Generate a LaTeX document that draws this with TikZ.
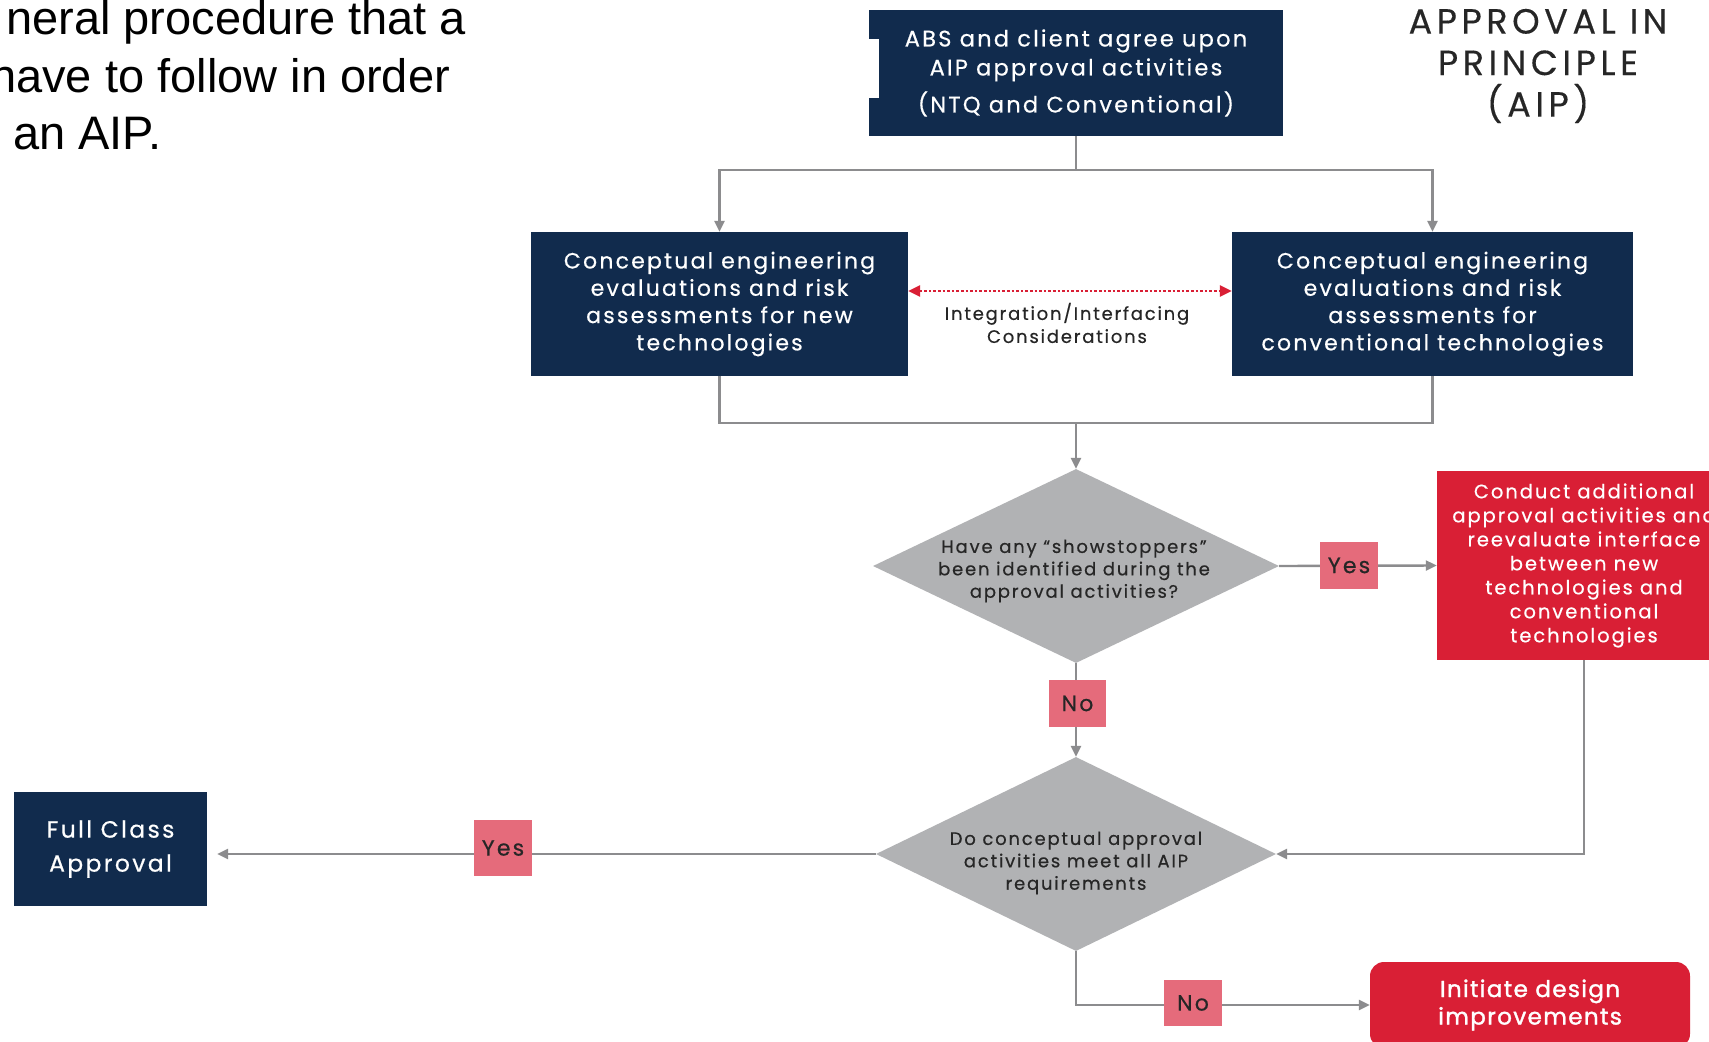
\documentclass[tikz,border=0pt]{standalone}
\usepackage{fontspec}
\setmainfont{Poppins}
\newfontfamily\arialfont{Liberation Sans}
\newfontfamily\trk[LetterSpace=10, FakeBold=0.5]{Poppins}
\newfontfamily\trkt[LetterSpace=13, FakeBold=0.3]{Poppins}
\newfontfamily\trkb[LetterSpace=6, FakeBold=1.6]{Poppins}
\usetikzlibrary{shapes.geometric,arrows.meta}
\definecolor{navy}{RGB}{17,43,77}
\definecolor{absred}{RGB}{217,31,53}
\definecolor{pinklab}{RGB}{229,107,123}
\definecolor{dgray}{RGB}{177,178,180}
\definecolor{lgray}{RGB}{140,140,142}
\newcommand\boxfnt{\trk\fontsize{22}{27.3}\selectfont}
\newcommand\dfnt{\trk\fontsize{18}{22.4}\selectfont}
\tikzset{
  navybox/.style={fill=navy, text=white, align=center, inner sep=0pt, font=\boxfnt},
  redbox/.style={fill=absred, text=white, align=center, inner sep=0pt, font=\boxfnt},
  dshape/.style={shape=diamond, fill=dgray, inner sep=0pt},
  dtext/.style={align=center, text=black!85, font=\dfnt, inner sep=0pt},
  lab/.style={fill=pinklab, text=black!85, inner sep=0pt, font=\trk\fontsize{22}{24}\selectfont},
  conn/.style={draw=lgray, line width=2.4pt},
  arr/.style={conn, -{Triangle[length=11pt,width=10pt]}},
}
\begin{document}
\begin{tikzpicture}[x=1pt,y=-1pt]
\useasboundingbox (0,0) rectangle (1709,1042);
\clip (0,0) rectangle (1709,1042);
\fill[white] (0,0) rectangle (1709,1042);

% intro text (cut off at left)
\node[anchor=base west, inner sep=0pt, font=\arialfont\fontsize{47}{56}\selectfont] (t1) at (6,34) {neral procedure that a};
\node[anchor=base west, inner sep=0pt, font=\arialfont\fontsize{47}{56}\selectfont] (t2) at (-10,92) {have to follow in order};
\node[anchor=base west, inner sep=0pt, font=\arialfont\fontsize{47}{56}\selectfont] (t3) at (13,149) {an AIP.};

% title
\node[align=center, inner sep=0pt, font=\trkt\fontsize{35}{41.5}\selectfont, text=black!85] (title) at (1538,66) {APPROVAL IN\\PRINCIPLE\\(AIP)};

% boxes
\node[navybox, minimum width=414pt, minimum height=126pt, font=\trk\fontsize{22.5}{29}\selectfont] (top) at (1076,73) {ABS and client agree upon\\AIP approval activities\\[8pt](NTQ and Conventional)};
\fill[white] (868,39) rectangle (879,98);
\node[navybox, minimum width=377pt, minimum height=144pt] (left) at (719.5,304) {Conceptual engineering\\evaluations and risk\\assessments for new\\technologies};
\node[navybox, minimum width=401pt, minimum height=144pt] (right) at (1432.5,304) {Conceptual engineering\\evaluations and risk\\assessments for\\conventional technologies};
\node[redbox, minimum width=294pt, minimum height=189pt, font=\trk\fontsize{19.5}{24}\selectfont] (red) at (1584,565.5) {Conduct additional\\approval activities and\\reevaluate interface\\between new\\technologies and\\conventional\\technologies};
\node[navybox, minimum width=193pt, minimum height=114pt, font=\trk\fontsize{23.5}{34}\selectfont] (full) at (110.5,849) {Full Class\\Approval};
\node[redbox, rounded corners=14pt, minimum width=320pt, minimum height=86pt, font=\trkb\fontsize{23}{27.5}\selectfont] (init) at (1530,1005) {Initiate design\\improvements};

% diamonds
\node[dshape, minimum width=406pt, minimum height=194pt] (d1) at (1076,566) {};
\node[dtext] (d1t) at (1074,571) {Have any “showstoppers”\\been identified during the\\approval activities?};
\node[dshape, minimum width=400pt, minimum height=194pt] (d2) at (1076,854) {};
\node[dtext] (d2t) at (1076,863) {Do conceptual approval\\activities meet all AIP\\requirements};

% connectors
\coordinate (j1) at (1076,170);
\coordinate (j2) at (1076,423);
\draw[conn] (top.south) -- (j1);
\draw[arr] (j1) -| (left.north);
\draw[arr] (j1) -| (right.north);
\draw[conn] (left.south) -- (left.south |- j2) -- (right.south |- j2) -- (right.south);
\draw[arr] (j2) -- (d1.north);
\draw[absred, line width=2.6pt, dotted, {Triangle[length=12pt,width=11pt]}-{Triangle[length=12pt,width=11pt]}] ([yshift=13pt]left.east) -- ([yshift=13pt]right.west);
\node[align=center, inner sep=0pt, font=\trk\fontsize{18}{23}\selectfont, text=black!85] (integ) at (1067,323) {Integration/Interfacing\\Considerations};

\draw[arr] (d1.east) -- (red.west);
\draw[arr] (d1.south) -- (d2.north);
\draw[arr] (red.south) |- (d2.east);
\draw[arr, shorten >=10pt] (d2.west) -- (full.east |- d2.west);
\draw[arr] (d2.south) |- (init.west);

% labels
\node[lab, minimum width=58pt, minimum height=47pt] (yes1) at (1349,565.5) {Yes};
\node[lab, minimum width=57pt, minimum height=47pt] (no1) at (1077.5,703.5) {No};
\node[lab, minimum width=58pt, minimum height=56pt] (yes2) at (503,848) {Yes};
\node[lab, minimum width=58pt, minimum height=46pt] (no2) at (1193,1003) {No};
\end{tikzpicture}
\end{document}
